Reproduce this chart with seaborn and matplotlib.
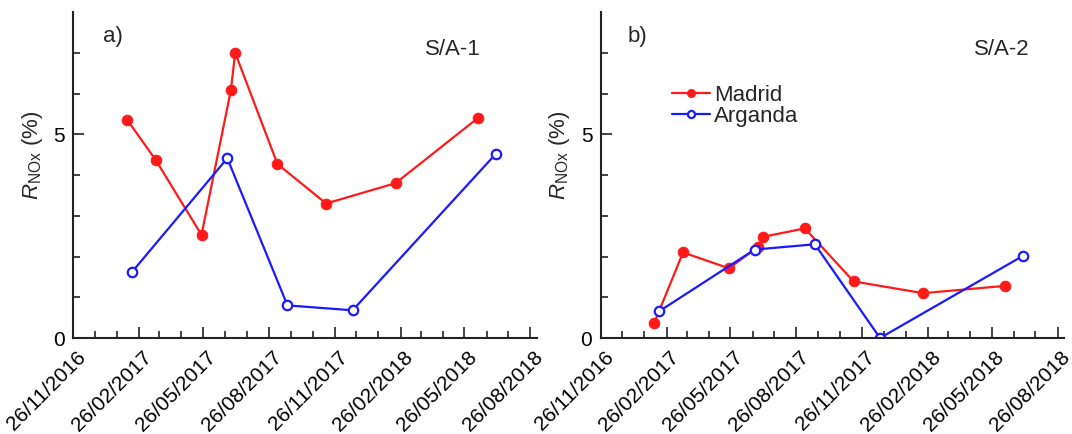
import matplotlib
matplotlib.use("Agg")
import matplotlib.pyplot as plt
import matplotlib.dates as mdates
from matplotlib.transforms import ScaledTranslation
import seaborn as sns
import pandas as pd

# ---- data ----
madrid_dates = ["2017-02-09", "2017-03-21", "2017-05-24", "2017-07-04", "2017-07-10",
                "2017-09-07", "2017-11-14", "2018-02-19", "2018-06-14"]
madrid_a = [5.36, 4.37, 2.53, 6.08, 7.00, 4.27, 3.30, 3.80, 5.40]
madrid_b = [0.38, 2.10, 1.71, 2.24, 2.48, 2.69, 1.39, 1.10, 1.28]
arganda_dates = ["2017-02-16", "2017-06-29", "2017-09-21", "2017-12-21", "2018-07-09"]
arganda_a = [1.62, 4.41, 0.80, 0.68, 4.52]
arganda_b = [0.66, 2.17, 2.30, 0.00, 2.02]
panel_letters = ["a)", "b)"]
panel_titles = ["S/A-1", "S/A-2"]
series_names = ["Madrid", "Arganda"]

sns.set_style("ticks")
plt.rcParams["font.family"] = ["Liberation Sans", "DejaVu Sans"]
plt.rcParams["mathtext.fontset"] = "custom"
plt.rcParams["mathtext.rm"] = "Liberation Sans"
plt.rcParams["mathtext.it"] = "Liberation Sans:italic"

fig = plt.figure(figsize=(10.72, 4.34), dpi=100)
W, H = 1072, 434
ax_a = fig.add_axes([73.3 / W, (H - 338) / H, 463.4 / W, (338 - 12) / H])
ax_b = fig.add_axes([600.7 / W, (H - 338) / H, 463.4 / W, (338 - 12) / H])

md = pd.to_datetime(madrid_dates)
ad = pd.to_datetime(arganda_dates)

red = "#ff1a1a"
blue = "#1a1aff"
panels = [(ax_a, madrid_a, arganda_a, panel_letters[0], panel_titles[0], 0.064, 0.759),
          (ax_b, madrid_b, arganda_b, panel_letters[1], panel_titles[1], 0.057, 0.805)]
for ax, mv, av, letter, title, lx, tx in panels:
    dfm = pd.DataFrame({"date": md, "val": mv})
    dfa = pd.DataFrame({"date": ad, "val": av})
    sns.lineplot(data=dfm, x="date", y="val", ax=ax, color=red, lw=1.6,
                 marker="o", markersize=7.6, markeredgecolor=red,
                 markerfacecolor=red, label=series_names[0], legend=False)
    sns.lineplot(data=dfa, x="date", y="val", ax=ax, color=blue, lw=1.6,
                 marker="o", markersize=6.8, markeredgecolor=blue,
                 markerfacecolor="white", markeredgewidth=1.6,
                 label=series_names[1], legend=False)
    ax.set_xlim(pd.Timestamp("2016-11-26"), pd.Timestamp("2018-09-04"))
    ax.set_ylim(0, 8)
    ax.set_yticks([0, 5])
    ax.set_yticks(range(0, 8), minor=True)
    ax.xaxis.set_major_locator(mdates.MonthLocator(bymonth=[2, 5, 8, 11], bymonthday=26))
    ax.xaxis.set_minor_locator(mdates.MonthLocator(bymonthday=26))
    ax.xaxis.set_major_formatter(mdates.DateFormatter("%d/%m/%Y"))
    ax.tick_params(axis="both", which="major", direction="in", length=8, width=1.2,
                   labelsize=15, colors="#222222", labelcolor="black")
    ax.tick_params(axis="both", which="minor", direction="in", length=5, width=1.2,
                   colors="#222222")
    ax.tick_params(axis="x", which="major", pad=4)
    ax.tick_params(axis="y", which="major", pad=6)
    off = ScaledTranslation(3 / 100, -4 / 100, fig.dpi_scale_trans)
    for lbl in ax.get_xticklabels():
        lbl.set_rotation(45)
        lbl.set_ha("right")
        lbl.set_rotation_mode("anchor")
        lbl.set_transform(lbl.get_transform() + off)
    for s in ["top", "right"]:
        ax.spines[s].set_visible(False)
    for s in ["left", "bottom"]:
        ax.spines[s].set_linewidth(1.5)
        ax.spines[s].set_color("#222222")
    ax.set_xlabel("")
    ax.set_ylabel(r"$\mathit{R}_{\mathrm{NOx}}$ (%)", fontsize=16)
    ax.yaxis.set_label_coords(-0.062, 0.56)
    ax.text(lx, 0.925, letter, transform=ax.transAxes, fontsize=16, va="center")
    ax.text(tx, 0.885, title, transform=ax.transAxes, fontsize=16, va="center")

ax_b.legend(loc="upper left", bbox_to_anchor=(0.13, 0.81), frameon=False, fontsize=16,
            handlelength=1.7, handletextpad=0.2, labelspacing=0.0, borderpad=0,
            markerscale=0.75)

fig.savefig("out.png", dpi=100)
